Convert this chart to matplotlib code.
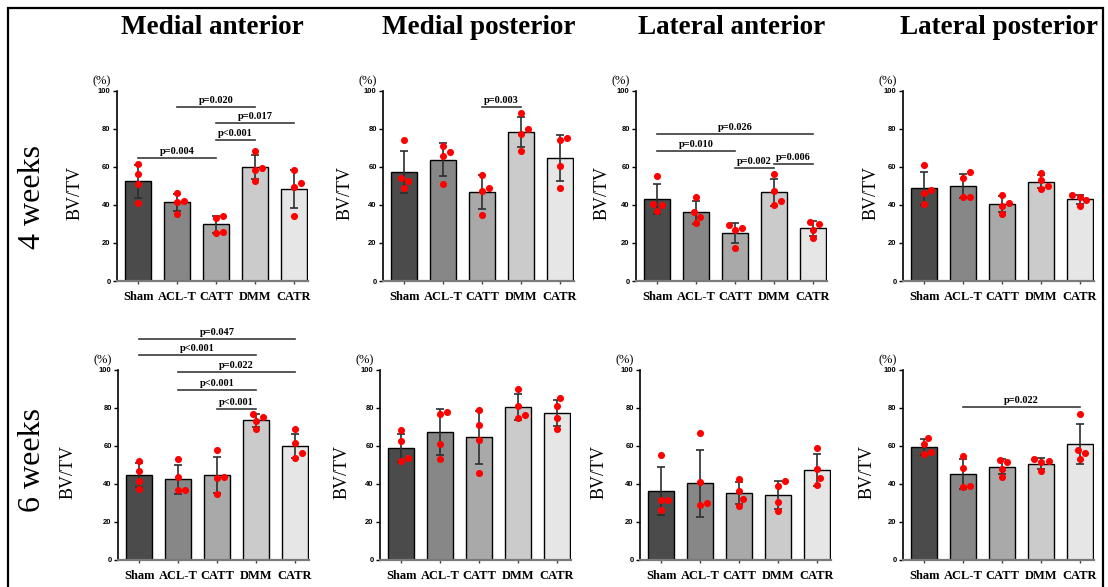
import matplotlib
matplotlib.use('Agg')
import matplotlib.pyplot as plt
from matplotlib.patches import Rectangle

## 데이터
groups = ['Sham', 'ACL-T', 'CATT', 'DMM', 'CATR']
regions = ['Medial anterior', 'Medial posterior', 'Lateral anterior', 'Lateral posterior']
weeks = ['4 weeks', '6 weeks']

mean_4w = [
    [52.3, 41.3, 29.7, 59.7, 48.3],
    [57.4, 63.7, 46.6, 78.2, 64.6],
    [43.0, 36.1, 25.3, 46.5, 27.7],
    [48.7, 49.9, 40.3, 52.2, 42.9],
]
sd_4w = [
    [8.6, 4.4, 4.6, 6.3, 10.2],
    [11.0, 8.5, 9.0, 7.9, 12.0],
    [8.0, 6.0, 5.3, 7.2, 3.9],
    [8.6, 6.5, 4.3, 3.6, 2.3],
]
mean_6w = [
    [44.5, 42.4, 44.7, 73.3, 59.9],
    [58.8, 67.1, 64.4, 80.2, 77.2],
    [36.1, 40.3, 35.0, 34.0, 47.1],
    [59.3, 45.0, 48.9, 50.6, 60.9],
]
sd_6w = [
    [6.2, 7.7, 9.3, 3.3, 6.2],
    [7.5, 12.0, 14.0, 6.9, 7.0],
    [12.5, 17.5, 5.8, 7.3, 8.4],
    [4.2, 7.9, 3.9, 2.8, 10.6],
]

# 개별 값 (그룹별 4개)
pts_4w = [
    [[61.2, 56.0, 50.8, 41.1], [46.4, 41.3, 42.0, 35.2], [33.1, 34.0, 25.0, 25.7], [68.4, 58.1, 59.5, 52.7], [58.1, 51.4, 49.2, 34.1]],
    [[73.8, 54.1, 52.4, 48.9], [70.7, 67.9, 65.4, 51.0], [55.7, 48.7, 47.3, 34.6], [88.0, 79.6, 77.0, 68.4], [74.9, 74.0, 60.6, 48.9]],
    [[55.1, 40.5, 39.7, 36.8], [44.3, 36.2, 33.6, 30.2], [29.2, 28.0, 26.8, 17.4], [56.2, 47.5, 41.9, 40.1], [31.2, 29.9, 26.8, 22.7]],
    [[60.7, 46.4, 47.8, 40.3], [57.1, 54.1, 44.3, 44.3], [45.2, 41.2, 39.6, 35.3], [56.9, 52.9, 49.9, 48.5], [45.2, 44.0, 42.6, 39.4]],
]
pts_6w = [
    [[52.2, 46.9, 41.7, 37.2], [53.1, 43.5, 36.6, 36.6], [57.6, 43.3, 43.6, 34.6], [76.6, 72.9, 74.9, 68.6], [68.6, 61.3, 56.4, 53.8]],
    [[68.3, 62.3, 53.4, 52.0], [76.7, 77.9, 60.9, 52.9], [78.5, 70.8, 63.2, 45.7], [89.8, 80.6, 76.0, 74.4], [84.9, 81.1, 74.4, 68.7]],
    [[55.2, 31.5, 31.7, 26.3], [66.5, 40.8, 30.1, 28.7], [42.3, 36.3, 32.2, 28.3], [38.7, 41.3, 30.5, 25.6], [58.8, 47.8, 43.3, 39.4]],
    [[64.3, 60.9, 56.7, 55.7], [54.8, 48.3, 38.1, 39.1], [52.7, 51.3, 48.0, 43.8], [53.0, 52.2, 51.3, 46.6], [76.9, 57.9, 56.2, 53.0]],
]

# 점 좌우 흩어짐 (단위 0.17)
jit_4w = [
    [[0, 0, 0, 0], [0, 0, 1, 0], [0, 1, 0, 1], [0, 0, 1, 0], [0, 1, 0, 0]],
    [[0, -0.5, 0.5, 0], [0, 1, 0, 0], [0, 1, 0, 0], [0, 1, 0, 0], [1, 0, 0, 0]],
    [[0, -0.6, 0.7, 0], [0, -0.4, 0.5, 0], [-1, 1, 0, 0], [0, 0, 1, 0], [-0.4, 0.9, 0, 0]],
    [[0, 0, 1, 0], [1, 0, 0, 1], [0, 1, 0, 0], [0, 0, 1, 0], [-1.2, 0, 0.9, 0]],
]
jit_6w = [
    [[0, 0, 0, 0], [0, 0, 0, 1], [0, 0, 1, 0], [-0.5, 0, 1, 0], [0, 0, 1, 0]],
    [[0, 0, 1, 0], [0, 1, 0, 0], [0, 0, 0, 0], [0, 0, 1, 0], [0.5, 0, 0, 0]],
    [[0, 0, 1, 0], [0, 0, 1, 0], [0, 0, 0.5, 0], [0, 1, 0, 0], [0, 0, 0.5, 0]],
    [[0.5, 0, 1, 0], [0, 0, 0, 1], [-0.3, 0.7, 0, 0], [-1, 1.2, 0, 0], [0, -0.3, 0.8, 0]],
]

# 유의성 표시 (시작, 끝, 높이, 라벨)
br_4w = [
    [(0, 2, 64.7, 'p=0.004'), (1, 3, 91.2, 'p=0.020'), (2, 4, 82.9, 'p=0.017'), (2, 3, 73.8, 'p<0.001')],
    [(2, 3, 91.4, 'p=0.003')],
    [(0, 4, 77.1, 'p=0.026'), (0, 2, 68.0, 'p=0.010'), (2, 3, 59.3, 'p=0.002'), (3, 4, 61.4, 'p=0.006')],
    [],
]
br_6w = [
    [(0, 4, 115.9, 'p=0.047'), (0, 3, 107.5, 'p<0.001'), (1, 4, 98.6, 'p=0.022'), (1, 3, 89.0, 'p<0.001'), (2, 3, 79.1, 'p<0.001')],
    [],
    [],
    [(1, 4, 80.2, 'p=0.022')],
]

bar_colors = ['#4b4b4b', '#878787', '#a9a9a9', '#cbcbcb', '#e6e6e6']
serif = 'Liberation Serif'
sans = 'Liberation Sans'

W, H = 1108, 587
fig = plt.figure(figsize=(W / 100, H / 100), dpi=100)

lefts = [[117, 383, 636, 903], [118, 380, 640, 903]]
bottoms = [281, 560]
lab_x = [[-0.22, -0.2, -0.18, -0.17], [-0.26, -0.2, -0.215, -0.19]]

means = [mean_4w, mean_6w]
sds = [sd_4w, sd_6w]
pts = [pts_4w, pts_6w]
jits = [jit_4w, jit_6w]
brs = [br_4w, br_6w]

x = list(range(len(groups)))
for r in range(2):
    for c in range(4):
        ax = fig.add_axes([lefts[r][c] / W, 1 - bottoms[r] / H, 191 / W, 190.5 / H])
        ax.bar(x, means[r][c], width=0.67, color=bar_colors, edgecolor='black', linewidth=1.0, zorder=2)
        ax.errorbar(x, means[r][c], yerr=sds[r][c], fmt='none', ecolor='#2e2e2e',
                    elinewidth=1.2, capsize=3, capthick=1.2, zorder=3)
        for g in x:
            xs = [g + 0.17 * j for j in jits[r][c][g]]
            ax.scatter(xs, pts[r][c][g], s=26, color='red', zorder=4, linewidths=0)
        for (i, j, y, lab) in brs[r][c]:
            ax.plot([i, j], [y, y], color='#3a3a3a', lw=1.2, clip_on=False, zorder=3)
            ax.annotate(lab, ((i + j) / 2, y), xytext=(0, 1.5), textcoords='offset points',
                        ha='center', va='bottom', fontsize=7.5, fontweight='bold',
                        family=serif, annotation_clip=False)

        ax.set_xlim(-0.55, 4.36)
        ax.set_ylim(0, 100)
        ax.set_yticks([0, 20, 40, 60, 80, 100])
        ax.set_xticks(x)
        ax.set_xticklabels(groups, family=serif, fontweight='bold', fontsize=9)
        for t in ax.get_yticklabels():
            t.set_family(sans)
            t.set_fontweight('bold')
            t.set_fontsize(5.5)
        ax.tick_params(axis='y', length=3, width=1, pad=1.5)
        ax.tick_params(axis='x', length=2.5, width=1, pad=5, color='#444444')
        for s in ['top', 'right']:
            ax.spines[s].set_visible(False)
        ax.spines['left'].set_linewidth(1.2)
        ax.spines['bottom'].set_linewidth(1.6)
        ax.spines['bottom'].set_color('#7a7a7a')

        ax.set_ylabel('BV/TV', family=serif, fontsize=13)
        ax.yaxis.label.set_verticalalignment('center')
        ax.yaxis.set_label_coords(lab_x[r][c], 0.46)
        ax.text(-0.08, 1.05, '(%)', transform=ax.transAxes, ha='center', va='center',
                family=serif, fontsize=9)

        if r == 0:
            fig.text((lefts[0][c] + 95.5) / W, 1 - 27 / H, regions[c], ha='center', va='center',
                     family=serif, fontweight='bold', fontsize=19.5)

fig.text(33 / W, 1 - 197 / H, weeks[0], rotation=90, ha='center', va='center', family=serif, fontsize=23)
fig.text(32 / W, 1 - 460 / H, weeks[1], rotation=90, ha='center', va='center', family=serif, fontsize=23)

# 바깥 테두리
fig.patches.append(Rectangle((8 / W, -0.02), (1103 - 8) / W, 1.02 - 8 / H, transform=fig.transFigure,
                             fill=False, edgecolor='black', linewidth=1.6))

fig.savefig('out.png', dpi=100)
